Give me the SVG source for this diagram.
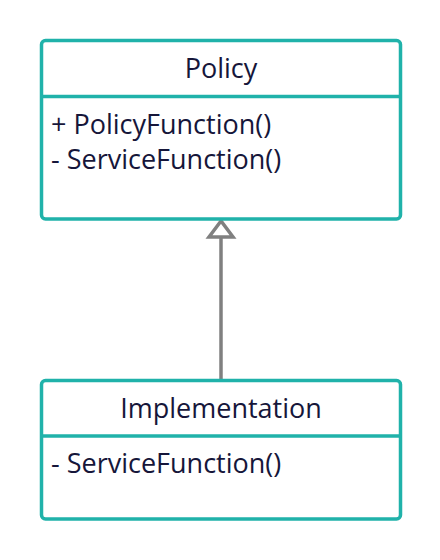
<svg xmlns="http://www.w3.org/2000/svg" width="440" height="560" viewBox="0 0 440 560">
<style>
.box{fill:#ffffff;stroke:#20b2aa;stroke-width:3.5}
.div{stroke:#20b2aa;stroke-width:3.5}
.t{font-family:"Open Sans","Noto Sans",sans-serif;font-size:27px;fill:#16163a}
.c{text-anchor:middle}
.conn{stroke:#808080;stroke-width:3.5;fill:none}
</style>
<rect width="440" height="560" fill="#ffffff"/>
<g id="connectors">
<line class="conn" x1="221" y1="380" x2="221" y2="237"/>
<polygon points="221,221 209,237 233,237" fill="#ffffff" stroke="#808080" stroke-width="3.5" stroke-linejoin="miter"/>
</g>
<g id="policy">
<rect class="box" x="41.5" y="40.5" width="359" height="178.5" rx="4"/>
<line class="div" x1="41.5" y1="96.5" x2="400.5" y2="96.5"/>
<text class="t c" x="221" y="78">Policy</text>
<text class="t" x="51" y="134">+ PolicyFunction()</text>
<text class="t" x="51" y="169">- ServiceFunction()</text>
</g>
<g id="implementation">
<rect class="box" x="41.5" y="380.5" width="359" height="138.5" rx="4"/>
<line class="div" x1="41.5" y1="436" x2="400.5" y2="436"/>
<text class="t c" x="221" y="418">Implementation</text>
<text class="t" x="51" y="473">- ServiceFunction()</text>
</g>
</svg>
